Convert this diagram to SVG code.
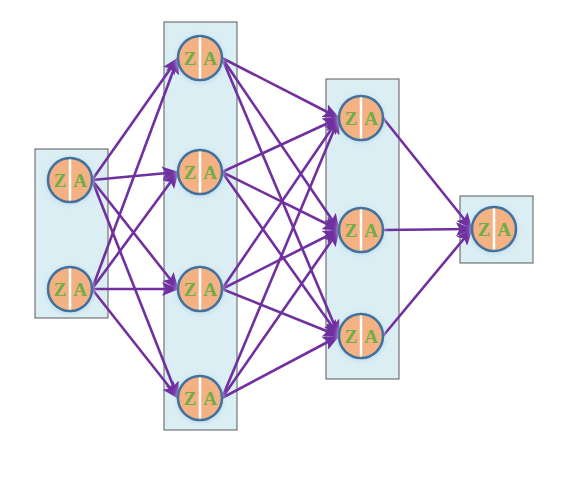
<svg xmlns="http://www.w3.org/2000/svg" width="577" height="480" viewBox="0 0 577 480">
<style>
.layer{fill:#DAEEF3;stroke:#5A5A5A;stroke-width:1}
.glow{fill:#BDD7EE;opacity:0.8}
.nc{fill:#F4B183;stroke:#41719C;stroke-width:2.5}
.div{stroke:#FFFFFF;stroke-width:2.5}
.conn line{stroke:#7030A0;stroke-width:2.6;marker-end:url(#ah)}
</style>
<defs>
<marker id="ah" markerUnits="userSpaceOnUse" markerWidth="17" markerHeight="14" viewBox="0 0 17 14" refX="16" refY="7" orient="auto">
<path d="M0,0 L17,7 L0,14 L3.5,7 Z" fill="#7030A0"/>
</marker>
<filter id="blur" x="-30%" y="-30%" width="160%" height="160%"><feGaussianBlur stdDeviation="2"/></filter>
<g id="za">
<circle r="24" class="glow" filter="url(#blur)" cy="1"/>
<circle r="22" class="nc"/>
<line x1="0" y1="-20.5" x2="0" y2="20.5" class="div"/>
<text x="-10" y="6.5" font-family="Liberation Serif, serif" font-weight="bold" font-size="19" fill="#70AD47" text-anchor="middle">Z</text>
<text x="10" y="6.5" font-family="Liberation Serif, serif" font-weight="bold" font-size="19" fill="#70AD47" text-anchor="middle">A</text>
</g>
</defs>
<g id="layers">
<rect id="layer1" class="layer" x="35" y="149" width="73" height="169"/>
<rect id="layer2" class="layer" x="164" y="22" width="73" height="408"/>
<rect id="layer3" class="layer" x="326" y="79" width="73" height="300"/>
<rect id="layer4" class="layer" x="460" y="196" width="73" height="67"/>
</g>
<g id="connectors" class="conn">
<line x1="92" y1="180" x2="178" y2="58"/>
<line x1="92" y1="180" x2="178" y2="172"/>
<line x1="92" y1="180" x2="178" y2="289"/>
<line x1="92" y1="180" x2="178" y2="398"/>
<line x1="92" y1="289" x2="178" y2="58"/>
<line x1="92" y1="289" x2="178" y2="172"/>
<line x1="92" y1="289" x2="178" y2="289"/>
<line x1="92" y1="289" x2="178" y2="398"/>
<line x1="222" y1="58" x2="339" y2="118"/>
<line x1="222" y1="58" x2="339" y2="230"/>
<line x1="222" y1="58" x2="339" y2="336"/>
<line x1="222" y1="172" x2="339" y2="118"/>
<line x1="222" y1="172" x2="339" y2="230"/>
<line x1="222" y1="172" x2="339" y2="336"/>
<line x1="222" y1="289" x2="339" y2="118"/>
<line x1="222" y1="289" x2="339" y2="230"/>
<line x1="222" y1="289" x2="339" y2="336"/>
<line x1="222" y1="398" x2="339" y2="118"/>
<line x1="222" y1="398" x2="339" y2="230"/>
<line x1="222" y1="398" x2="339" y2="336"/>
<line x1="383" y1="118" x2="472" y2="229"/>
<line x1="383" y1="230" x2="472" y2="229"/>
<line x1="383" y1="336" x2="472" y2="229"/>
</g>
<g id="n1_1"><use href="#za" x="70" y="180"/></g>
<g id="n1_2"><use href="#za" x="70" y="289"/></g>
<g id="n2_1"><use href="#za" x="200" y="58"/></g>
<g id="n2_2"><use href="#za" x="200" y="172"/></g>
<g id="n2_3"><use href="#za" x="200" y="289"/></g>
<g id="n2_4"><use href="#za" x="200" y="398"/></g>
<g id="n3_1"><use href="#za" x="361" y="118"/></g>
<g id="n3_2"><use href="#za" x="361" y="230"/></g>
<g id="n3_3"><use href="#za" x="361" y="336"/></g>
<g id="n4_1"><use href="#za" x="494" y="229"/></g>
</svg>
